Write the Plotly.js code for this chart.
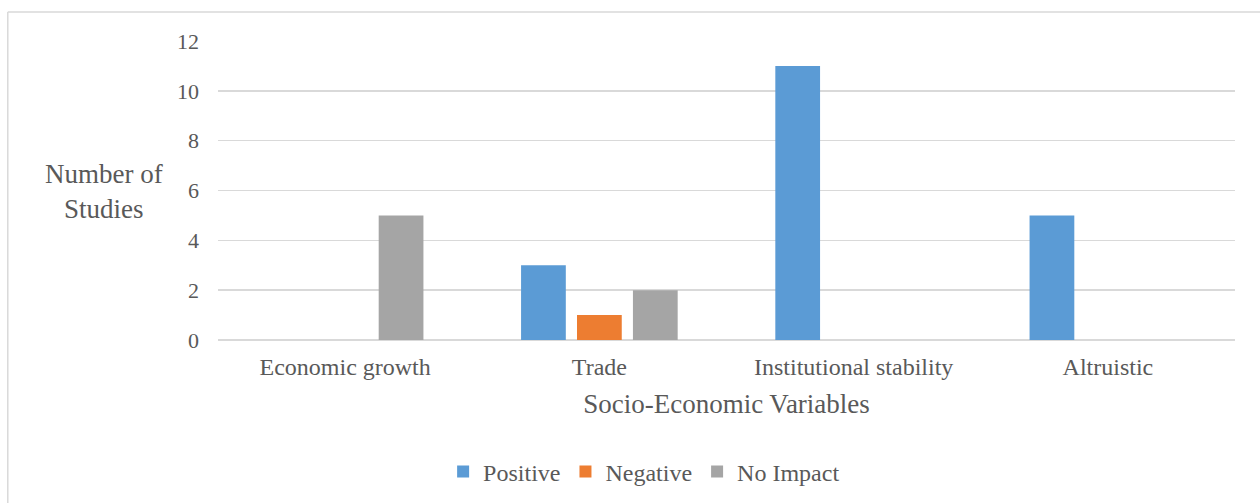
<!DOCTYPE html>
<html>
<head>
<meta charset="utf-8">
<script src="https://cdn.plot.ly/plotly-3.0.1.min.js"></script>
<style>
  html, body { margin: 0; padding: 0; background: #fff; }
  #chart { width: 1260px; height: 503px; }
</style>
</head>
<body>
<div id="chart"></div>
<script>
// Number of studies per socio-economic variable, split by reported effect
const categories = ["Economic growth", "Trade", "Institutional stability", "Altruistic"];
const positive = [0, 3, 11, 5];
const negative = [0, 1, 0, 0];
const noImpact = [5, 2, 0, 0];
const yTicks = [0, 2, 4, 6, 8, 10, 12];

const FONT = "Liberation Serif, Times New Roman, serif";
const TEXT = "#595959";

const traces = [
  { name: "Positive", y: positive, color: "#5B9BD5" },
  { name: "Negative", y: negative, color: "#ED7D31" },
  { name: "No Impact", y: noImpact, color: "#A5A5A5" }
].map(s => ({
  type: "bar",
  name: s.name,
  x: categories,
  y: s.y,
  marker: { color: s.color, line: { width: 0 } },
  hoverinfo: "x+y+name"
}));

const layout = {
  width: 1260,
  height: 503,
  margin: { l: 218, r: 25, t: 41, b: 163, autoexpand: false },
  paper_bgcolor: "#ffffff",
  plot_bgcolor: "#ffffff",
  font: { family: FONT, color: TEXT },
  barmode: "group",
  bargap: 0.34,
  bargroupgap: 0.2,
  showlegend: true,
  legend: {
    orientation: "h",
    xref: "paper", yref: "container",
    x: 0.419, xanchor: "center",
    y: 0.062, yanchor: "middle",
    font: { family: FONT, size: 24, color: TEXT },
    itemwidth: 30,
    traceorder: "normal"
  },
  xaxis: {
    type: "category",
    automargin: false,
    showgrid: false,
    showline: false,
    zeroline: false,
    ticks: "",
    tickfont: { family: FONT, size: 24, color: TEXT },
    ticklabelstandoff: 10,
    title: { text: "Socio-Economic Variables", font: { family: FONT, size: 27, color: TEXT }, standoff: 15 }
  },
  yaxis: {
    automargin: false,
    range: [0, 12],
    tickvals: yTicks,
    ticktext: yTicks.map(String),
    showgrid: true,
    gridcolor: "#d9d9d9",
    gridwidth: 1.5,
    zeroline: true,
    zerolinecolor: "#d9d9d9",
    zerolinewidth: 1.5,
    showline: false,
    ticks: "",
    tickfont: { family: FONT, size: 22, color: TEXT },
    ticklabelstandoff: 18
  },
  annotations: [{
    text: "Number of<br>Studies",
    xref: "paper", yref: "paper",
    x: -0.112, y: 0.495,
    xanchor: "center", yanchor: "middle",
    showarrow: false,
    align: "center",
    font: { family: FONT, size: 27, color: TEXT }
  }],
  shapes: [
    // chart frame (top and left edges fall inside the canvas)
    { type: "line", xref: "paper", yref: "paper", x0: -0.2067, x1: 1.1, y0: 1.097, y1: 1.097,
      line: { color: "#d9d9d9", width: 1.5 } },
    { type: "line", xref: "paper", yref: "paper", x0: -0.2067, x1: -0.2067, y0: 1.097, y1: -0.6,
      line: { color: "#d9d9d9", width: 1.5 } }
  ]
};

Plotly.newPlot("chart", traces, layout, { displayModeBar: false, staticPlot: true });
</script>
</body>
</html>
